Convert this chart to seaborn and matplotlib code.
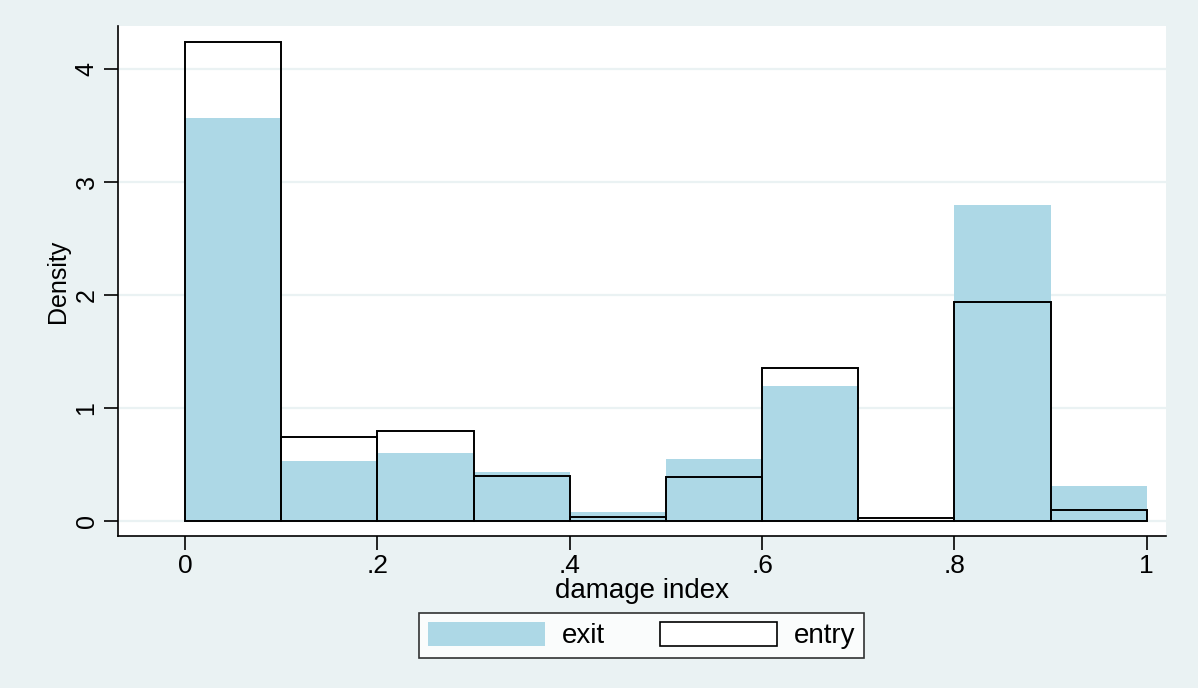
import numpy as np
import pandas as pd
import seaborn as sns
import matplotlib
matplotlib.use("Agg")
import matplotlib.pyplot as plt
from matplotlib.patches import Patch

# Data (density per bin, bins of width 0.1 on [0, 1])
bin_edges = [0.0, 0.1, 0.2, 0.3, 0.4, 0.5, 0.6, 0.7, 0.8, 0.9, 1.0]
exit_density = [3.57, 0.53, 0.60, 0.43, 0.08, 0.55, 1.195, 0.0, 2.80, 0.31]
entry_density = [4.24, 0.743, 0.80, 0.40, 0.035, 0.39, 1.354, 0.027, 1.94, 0.10]
x_ticks = [0, 0.2, 0.4, 0.6, 0.8, 1.0]
x_ticklabels = ["0", ".2", ".4", ".6", ".8", "1"]
y_ticks = [0, 1, 2, 3, 4]
y_ticklabels = ["0", "1", "2", "3", "4"]

sns.set_style("white")
plt.rcParams["font.family"] = ["Liberation Sans", "DejaVu Sans"]
plt.rcParams["text.color"] = "black"
plt.rcParams["axes.labelcolor"] = "black"
plt.rcParams["xtick.color"] = "black"
plt.rcParams["ytick.color"] = "black"

BG = "#eaf2f3"
FILL = "#add8e6"
FS_H = 19   # horizontal text
FS_V = 18   # rotated text

centers = [(a + b) / 2 for a, b in zip(bin_edges[:-1], bin_edges[1:])]
df_exit = pd.DataFrame({"x": centers, "w": exit_density})
df_entry = pd.DataFrame({"x": centers, "w": entry_density})

fig = plt.figure(figsize=(11.98, 6.88), dpi=100, facecolor=BG)
ax = fig.add_axes([118 / 1198, 1 - 536 / 688, (1166 - 118) / 1198, (536 - 26) / 688])
ax.set_facecolor("white")

for yv in y_ticks:
    ax.axhline(yv, color=BG, lw=1.6, zorder=0.5)

sns.histplot(data=df_exit, x="x", weights="w", bins=bin_edges, stat="count",
             color=FILL, alpha=1, edgecolor="none", linewidth=0, ax=ax, zorder=2)
sns.histplot(data=df_entry, x="x", weights="w", bins=bin_edges, stat="count",
             fill=False, color="black", edgecolor="black", linewidth=1.4, ax=ax,
             zorder=3, element="bars")

ax.set_xlim(-0.0697, 1.02)
ax.set_ylim(-0.133, 4.38)
ax.set_xticks(x_ticks)
ax.set_xticklabels(x_ticklabels, fontsize=FS_H)
ax.set_yticks(y_ticks)
ax.set_yticklabels(y_ticklabels, fontsize=FS_V, rotation=90, va="center")
ax.tick_params(axis="both", which="major", direction="out", length=10, width=1.2,
               color="black", left=True, bottom=True, labelcolor="black")
ax.tick_params(axis="x", pad=3)
ax.tick_params(axis="y", pad=4)
ax.grid(False)

for side in ["top", "right"]:
    ax.spines[side].set_visible(False)
for side in ["left", "bottom"]:
    ax.spines[side].set_visible(True)
    ax.spines[side].set_color("black")
    ax.spines[side].set_linewidth(1.2)

ax.set_xlabel("damage index", fontsize=20, labelpad=0, color="black")
ax.set_ylabel("Density", fontsize=FS_V, labelpad=3, color="black")

handles = [Patch(facecolor=FILL, edgecolor="none", label="exit"),
           Patch(facecolor="white", edgecolor="black", linewidth=1.2, label="entry")]
leg = fig.legend(handles=handles, loc="center", bbox_to_anchor=(0.5355, 0.0763),
                 ncol=2, frameon=True, fancybox=False, shadow=False, fontsize=20,
                 handlelength=4.2, handleheight=0.95, handletextpad=0.6,
                 columnspacing=2.0, borderpad=0.33, borderaxespad=0)
leg.get_frame().set_edgecolor("black")
leg.get_frame().set_linewidth(1.2)
leg.get_frame().set_facecolor("white")
for t in leg.get_texts():
    t.set_color("black")

fig.savefig("out.png", dpi=100, facecolor=BG)
